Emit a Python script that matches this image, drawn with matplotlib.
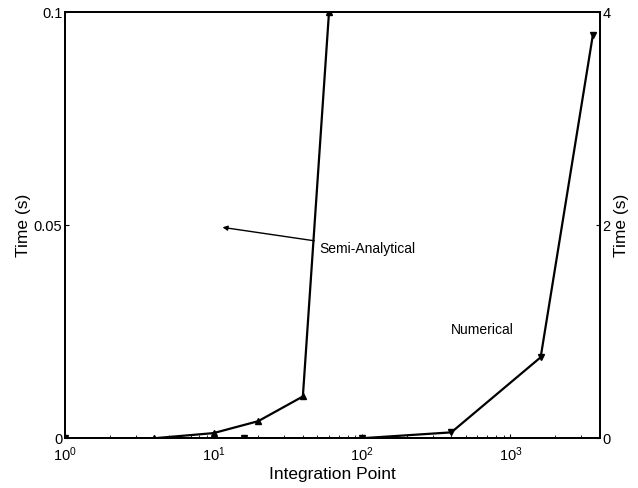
import matplotlib
matplotlib.use("Agg")
import matplotlib.pyplot as plt

plt.rcParams["font.family"] = ["Liberation Sans", "DejaVu Sans"]
plt.rcParams["xtick.direction"] = "in"
plt.rcParams["ytick.direction"] = "in"

# semi-analytical: integration points and time (left axis)
semi_points = [1, 4, 10, 20, 40, 60]
semi_time = [0.0, 0.0, 0.0012, 0.004, 0.0098, 0.1]

# numerical: integration points and time (right axis)
num_points = [1, 16, 100, 400, 1600, 3600]
num_time = [0.0, 0.0, 0.0, 0.055, 0.76, 3.79]

fig = plt.figure(figsize=(6.38, 4.88), dpi=100)
ax = fig.add_axes([0.102, 0.102, 0.838, 0.873])
ax2 = ax.twinx()

ax.plot(semi_points, semi_time, color="black", lw=1.6, marker="^", ms=4)
ax2.plot(num_points, num_time, color="black", lw=1.6, marker="v", ms=4)

ax.set_xscale("log")
ax.set_xlim(1, 4000)
ax.set_ylim(0, 0.1)
ax2.set_ylim(0, 4)
ax.set_yticks([0, 0.05, 0.1])
ax.set_yticklabels(["0", "0.05", "0.1"])
ax2.set_yticks([0, 2, 4])

ax.set_xlabel("Integration Point", fontsize=12.5, labelpad=2)
ax.set_ylabel("Time (s)", fontsize=12.5, labelpad=2)
ax2.set_ylabel("Time (s)", fontsize=12.5, labelpad=2)
for a in (ax, ax2):
    a.tick_params(labelsize=10.5, length=3, pad=2)
    for s in a.spines.values():
        s.set_linewidth(1.3)
ax.tick_params(axis="x", pad=5)

ax.annotate("Semi-Analytical", xy=(11.5, 0.0495), xytext=(52, 0.0445),
            fontsize=10, va="center",
            arrowprops=dict(arrowstyle="-|>", color="black", lw=1.0,
                            mutation_scale=7, shrinkA=2, shrinkB=0))
ax.text(400, 0.0253, "Numerical", fontsize=10, va="center")

fig.savefig("out.png", dpi=100)
